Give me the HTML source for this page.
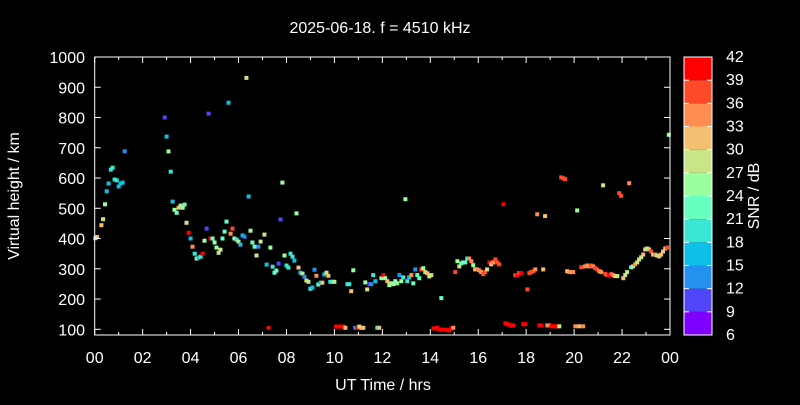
<!DOCTYPE html>
<html><head><meta charset="utf-8"><style>
html,body{margin:0;padding:0;background:#000;}
svg text{font-family:"Liberation Sans",sans-serif;fill:#fff;}
</style></head><body>
<svg id="chart" width="800" height="400" viewBox="0 0 800 400" xmlns="http://www.w3.org/2000/svg">
<rect width="800" height="400" fill="#000"/>
<text x="380" y="33" font-size="16" text-anchor="middle">2025-06-18. f = 4510 kHz</text>
<text x="383" y="390" font-size="16" text-anchor="middle">UT Time / hrs</text>
<text x="0" y="0" font-size="16" text-anchor="middle" transform="translate(19,196) rotate(-90)">Virtual height / km</text>
<text x="0" y="0" font-size="16" text-anchor="middle" transform="translate(759,196) rotate(-90)">SNR / dB</text>
<g id="points"></g>
<g id="axes"></g>
<g id="cbar"></g>
</svg>
<script>
const hours=[0.03,0.1,0.28,0.35,0.43,0.5,0.58,0.67,0.75,0.83,0.92,1.0,1.08,1.17,1.25,2.92,3.0,3.08,3.17,3.25,3.33,3.42,3.5,3.58,3.67,3.75,3.83,3.92,4.0,4.08,4.17,4.25,4.33,4.42,4.5,4.58,4.67,4.75,4.83,4.92,5.0,5.08,5.17,5.25,5.33,5.42,5.5,5.58,5.67,5.75,5.83,5.92,6.0,6.08,6.17,6.25,6.33,6.42,6.5,6.58,6.67,6.75,6.83,6.92,7.08,7.17,7.25,7.33,7.42,7.5,7.58,7.67,7.75,7.83,7.92,8.0,8.08,8.17,8.25,8.33,8.42,8.5,8.58,8.67,8.75,8.83,8.92,9.0,9.08,9.17,9.25,9.33,9.42,9.5,9.58,9.67,9.75,9.83,9.92,10.0,
10.54,10.62,10.7,10.79,11.29,11.37,11.45,11.54,11.62,11.71,11.96,12.04,12.12,12.21,12.29,12.37,12.46,12.54,12.62,12.71,12.79,12.87,12.96,13.04,13.12,13.21,13.29,13.37,13.46,13.54,13.63,13.71,13.79,13.88,13.96,14.04,14.46,
10.07,10.15,10.23,10.32,10.4,10.46,10.87,10.96,11.04,11.12,11.21,11.79,11.87,14.13,14.21,14.29,14.38,14.54,14.62,14.71,14.79,14.88,14.96,
15.04,15.13,15.21,15.29,15.37,15.46,15.54,15.62,15.71,15.79,15.87,15.96,16.04,16.12,16.21,16.29,16.37,16.46,16.54,16.62,16.71,16.79,16.87,
17.05,17.13,17.21,17.29,17.38,17.46,17.55,17.63,17.71,17.79,17.88,17.96,18.05,18.13,18.21,18.3,18.38,18.46,18.55,18.63,18.71,18.79,18.88,18.96,19.05,19.13,19.21,19.3,19.38,19.46,19.55,19.63,19.71,19.8,19.88,19.96,20.05,20.21,20.38,20.13,20.3,20.46,20.55,20.63,20.71,20.8,20.88,20.96,21.05,21.13,21.21,21.3,21.38,21.46,21.55,21.63,21.71,21.8,21.88,21.96,22.05,22.13,22.21,22.3,22.38,22.46,22.55,22.63,22.71,22.8,22.88,22.96,23.05,23.13,23.21,23.3,23.38,23.46,23.55,23.63,23.71,23.8,23.88,23.95];
const heights=[401,405,444,464,513,556,582,628,634,595,592,572,582,585,688,800,737,688,621,522,495,485,502,509,502,512,452,419,400,373,350,334,337,340,350,393,433,813,400,400,387,370,353,363,400,423,456,849,416,433,400,396,390,380,410,406,931,539,426,387,373,344,373,390,413,314,105,370,307,287,294,317,463,585,344,311,304,350,340,327,483,304,287,284,274,261,257,234,238,297,277,248,254,254,281,287,277,257,257,257,
249,249,226,295,255,232,249,249,279,259,269,279,269,259,246,252,249,259,252,279,259,272,530,259,272,279,252,298,279,269,298,302,289,285,275,279,203,
109,109,109,109,109,105,105,105,109,105,105,105,105,103,103,105,99,99,99,97,97,103,105,
289,325,308,318,321,321,334,334,325,312,298,298,295,289,282,289,298,321,315,321,331,321,315,
513,120,117,115,113,113,279,279,286,286,117,117,232,286,289,292,298,480,113,113,298,474,113,113,110,110,110,110,110,602,599,596,292,289,289,289,110,110,110,493,305,308,311,308,311,308,302,298,292,289,576,283,279,279,283,279,276,276,550,541,269,279,289,583,305,308,315,321,331,338,347,364,367,364,357,347,347,344,341,347,357,367,370,743];
const snr=[31,31,31,27,25,15,15,20,20,20,20,15,15,15,14,9,16,26,19,16,25,22,32,27,24,22,27,40,16,33,20,27,16,20,40,25,9,9,40,22,24,24,27,28,23,23,21,16,33,38,24,20,28,16,16,14,28,16,24,21,23,27,14,27,28,16,40,24,20,21,21,10,10,24,24,19,19,20,20,16,25,32,15,28,13,27,27,20,16,14,34,21,17,30,16,27,31,20,20,27,
20,20,31,25,25,27,10,12,18,15,25,40,24,32,25,25,25,24,24,12,25,20,25,18,17,34,23,13,21,22,38,25,28,32,28,28,22,
40,40,40,40,40,31,14,40,27,31,31,18,31,40,40,40,40,40,40,40,40,40,33,
38,24,27,22,21,22,20,34,34,24,31,33,34,34,36,38,27,40,31,33,38,38,38,
39,40,40,40,40,40,38,40,38,40,40,40,36,38,38,38,34,34,40,40,31,31,34,33,40,40,40,40,27,36,38,38,31,33,34,34,34,31,34,25,38,34,33,34,38,34,36,38,34,34,27,38,38,40,36,34,30,27,38,38,31,27,27,34,22,27,34,27,27,27,31,31,24,31,38,28,34,27,31,31,31,31,38,25];
const xTicks=["00","02","04","06","08","10","12","14","16","18","20","22","00"];
const yTicks=[100,200,300,400,500,600,700,800,900,1000];
const cbTicks=[6,9,12,15,18,21,24,27,30,33,36,39,42];
const bandColors=["#7f00ff","#5046f8","#2490f0","#0cc0e6","#3ae6d4","#66ffc0","#9aff9e","#c8e688","#f2c070","#ff8c50","#ff4a28","#ff0000"];

const NS="http://www.w3.org/2000/svg";
const L=94.7,R=670,T=57,B=335;
const xS=h=>L+h*(R-L)/24;
const yS=v=>T+(1000-v)*0.30256;
function mk(tag,attrs,parent){const e=document.createElementNS(NS,tag);for(const k in attrs)e.setAttribute(k,attrs[k]);parent.appendChild(e);return e;}
function color(s){let i=Math.floor((s-6)/3);if(i<0)i=0;if(i>11)i=11;return bandColors[i];}

const pts=document.getElementById('points');
for(let i=0;i<hours.length;i++){
  const r=mk('rect',{x:(xS(hours[i])-2).toFixed(1),y:(yS(heights[i])-2).toFixed(1),width:4,height:4,fill:color(snr[i])},pts);
  
  
}

const ax=document.getElementById('axes');
const frame=mk('rect',{x:L,y:T,width:R-L,height:B-T,fill:'none',stroke:'#fff','stroke-width':1},ax);


for(let h=0;h<=24;h++){
  const x=xS(h),len=(h%2===0)?6:3;
  mk('line',{x1:x,y1:B,x2:x,y2:B-len,stroke:'#fff'},ax);
  mk('line',{x1:x,y1:T,x2:x,y2:T+len,stroke:'#fff'},ax);
}
xTicks.forEach((t,i)=>{
  const e=mk('text',{x:xS(i*2),y:363,'font-size':16,'text-anchor':'middle'},ax);
  e.textContent=t;
  
  
});
yTicks.forEach(v=>{
  const y=yS(v);
  mk('line',{x1:L,y1:y,x2:L+6,y2:y,stroke:'#fff'},ax);
  mk('line',{x1:R,y1:y,x2:R-6,y2:y,stroke:'#fff'},ax);
  const e=mk('text',{x:85,y:y+6,'font-size':16,'text-anchor':'end'},ax);
  e.textContent=v;
  
  
});

const cb=document.getElementById('cbar');
const cx=684,cw=28,cT=57,cB=335,bh=(cB-cT)/12;
bandColors.forEach((c,i)=>{
  const r=mk('rect',{x:cx,y:cB-(i+1)*bh,width:cw,height:bh,fill:c},cb);
  
  
});
mk('rect',{x:cx,y:cT,width:cw,height:cB-cT,fill:'none',stroke:'#fff'},cb);
cbTicks.forEach((v,i)=>{
  const y=cB-i*bh;
  mk('line',{x1:cx,y1:y,x2:cx+5,y2:y,stroke:'#fff'},cb);
  mk('line',{x1:cx+cw,y1:y,x2:cx+cw-5,y2:y,stroke:'#fff'},cb);
  const e=mk('text',{x:726,y:y+5,'font-size':16},cb);
  e.textContent=v;
  
  
});
</script>
</body></html>
